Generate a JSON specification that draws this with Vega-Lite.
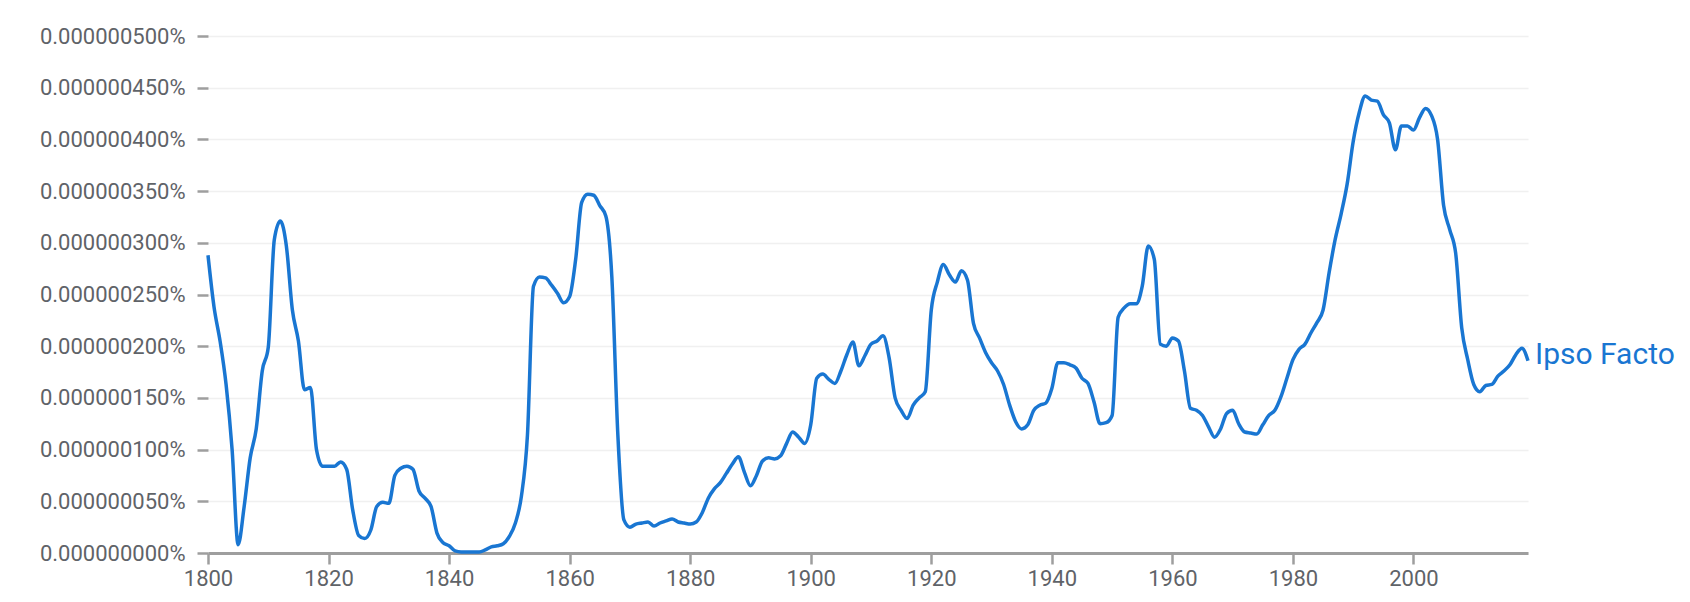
{
  "$schema": "https://vega.github.io/schema/vega-lite/v6.json",
  "width": 1320,
  "height": 517,
  "autosize": {"type": "none"},
  "padding": {"left": 208, "top": 36, "right": 162, "bottom": 49},
  "background": "white",
  "config": {"view": {"stroke": null}, "font": "Roboto"},
  "data": {"values": [
    {"year":1800,"value":2.88e-9},{"year":1801,"value":2.38e-9},{"year":1802,"value":2.05e-9},{"year":1803,"value":1.63e-9},{"year":1804,"value":1.0e-9},
    {"year":1805,"value":0.08e-9},{"year":1806,"value":0.45e-9},{"year":1807,"value":0.92e-9},{"year":1808,"value":1.2e-9},{"year":1809,"value":1.76e-9},
    {"year":1810,"value":1.99e-9},{"year":1811,"value":3.03e-9},{"year":1812,"value":3.21e-9},{"year":1813,"value":2.97e-9},{"year":1814,"value":2.35e-9},
    {"year":1815,"value":2.05e-9},{"year":1816,"value":1.58e-9},{"year":1817,"value":1.6e-9},{"year":1818,"value":1.0e-9},{"year":1819,"value":0.84e-9},
    {"year":1820,"value":0.84e-9},{"year":1821,"value":0.84e-9},{"year":1822,"value":0.88e-9},{"year":1823,"value":0.81e-9},{"year":1824,"value":0.42e-9},
    {"year":1825,"value":0.17e-9},{"year":1826,"value":0.14e-9},{"year":1827,"value":0.22e-9},{"year":1828,"value":0.45e-9},{"year":1829,"value":0.49e-9},
    {"year":1830,"value":0.48e-9},{"year":1831,"value":0.75e-9},{"year":1832,"value":0.82e-9},{"year":1833,"value":0.84e-9},{"year":1834,"value":0.81e-9},
    {"year":1835,"value":0.6e-9},{"year":1836,"value":0.53e-9},{"year":1837,"value":0.45e-9},{"year":1838,"value":0.19e-9},{"year":1839,"value":0.1e-9},
    {"year":1840,"value":0.07e-9},{"year":1841,"value":0.02e-9},{"year":1842,"value":0.01e-9},{"year":1843,"value":0.01e-9},{"year":1844,"value":0.01e-9},
    {"year":1845,"value":0.01e-9},{"year":1846,"value":0.03e-9},{"year":1847,"value":0.06e-9},{"year":1848,"value":0.07e-9},{"year":1849,"value":0.09e-9},
    {"year":1850,"value":0.16e-9},{"year":1851,"value":0.29e-9},{"year":1852,"value":0.55e-9},{"year":1853,"value":1.14e-9},{"year":1854,"value":2.58e-9},
    {"year":1855,"value":2.67e-9},{"year":1856,"value":2.66e-9},{"year":1857,"value":2.59e-9},{"year":1858,"value":2.51e-9},{"year":1859,"value":2.42e-9},
    {"year":1860,"value":2.48e-9},{"year":1861,"value":2.84e-9},{"year":1862,"value":3.39e-9},{"year":1863,"value":3.47e-9},{"year":1864,"value":3.46e-9},
    {"year":1865,"value":3.36e-9},{"year":1866,"value":3.26e-9},{"year":1867,"value":2.67e-9},{"year":1868,"value":1.14e-9},{"year":1869,"value":0.32e-9},
    {"year":1870,"value":0.25e-9},{"year":1871,"value":0.28e-9},{"year":1872,"value":0.29e-9},{"year":1873,"value":0.3e-9},{"year":1874,"value":0.26e-9},
    {"year":1875,"value":0.29e-9},{"year":1876,"value":0.31e-9},{"year":1877,"value":0.33e-9},{"year":1878,"value":0.3e-9},{"year":1879,"value":0.29e-9},
    {"year":1880,"value":0.28e-9},{"year":1881,"value":0.3e-9},{"year":1882,"value":0.39e-9},{"year":1883,"value":0.53e-9},{"year":1884,"value":0.62e-9},
    {"year":1885,"value":0.68e-9},{"year":1886,"value":0.77e-9},{"year":1887,"value":0.86e-9},{"year":1888,"value":0.93e-9},{"year":1889,"value":0.78e-9},
    {"year":1890,"value":0.65e-9},{"year":1891,"value":0.75e-9},{"year":1892,"value":0.89e-9},{"year":1893,"value":0.92e-9},{"year":1894,"value":0.91e-9},
    {"year":1895,"value":0.94e-9},{"year":1896,"value":1.06e-9},{"year":1897,"value":1.17e-9},{"year":1898,"value":1.12e-9},{"year":1899,"value":1.06e-9},
    {"year":1900,"value":1.24e-9},{"year":1901,"value":1.69e-9},{"year":1902,"value":1.73e-9},{"year":1903,"value":1.68e-9},{"year":1904,"value":1.64e-9},
    {"year":1905,"value":1.76e-9},{"year":1906,"value":1.92e-9},{"year":1907,"value":2.04e-9},{"year":1908,"value":1.81e-9},{"year":1909,"value":1.91e-9},
    {"year":1910,"value":2.02e-9},{"year":1911,"value":2.05e-9},{"year":1912,"value":2.1e-9},{"year":1913,"value":1.89e-9},{"year":1914,"value":1.5e-9},
    {"year":1915,"value":1.38e-9},{"year":1916,"value":1.3e-9},{"year":1917,"value":1.43e-9},{"year":1918,"value":1.5e-9},{"year":1919,"value":1.56e-9},
    {"year":1920,"value":2.35e-9},{"year":1921,"value":2.62e-9},{"year":1922,"value":2.79e-9},{"year":1923,"value":2.69e-9},{"year":1924,"value":2.62e-9},
    {"year":1925,"value":2.73e-9},{"year":1926,"value":2.64e-9},{"year":1927,"value":2.22e-9},{"year":1928,"value":2.08e-9},{"year":1929,"value":1.94e-9},
    {"year":1930,"value":1.84e-9},{"year":1931,"value":1.76e-9},{"year":1932,"value":1.63e-9},{"year":1933,"value":1.43e-9},{"year":1934,"value":1.27e-9},
    {"year":1935,"value":1.2e-9},{"year":1936,"value":1.24e-9},{"year":1937,"value":1.38e-9},{"year":1938,"value":1.43e-9},{"year":1939,"value":1.45e-9},
    {"year":1940,"value":1.59e-9},{"year":1941,"value":1.84e-9},{"year":1942,"value":1.84e-9},{"year":1943,"value":1.82e-9},{"year":1944,"value":1.79e-9},
    {"year":1945,"value":1.69e-9},{"year":1946,"value":1.64e-9},{"year":1947,"value":1.46e-9},{"year":1948,"value":1.25e-9},{"year":1949,"value":1.26e-9},
    {"year":1950,"value":1.33e-9},{"year":1951,"value":2.28e-9},{"year":1952,"value":2.37e-9},{"year":1953,"value":2.41e-9},{"year":1954,"value":2.41e-9},
    {"year":1955,"value":2.58e-9},{"year":1956,"value":2.97e-9},{"year":1957,"value":2.84e-9},{"year":1958,"value":2.02e-9},{"year":1959,"value":2.0e-9},
    {"year":1960,"value":2.08e-9},{"year":1961,"value":2.05e-9},{"year":1962,"value":1.76e-9},{"year":1963,"value":1.4e-9},{"year":1964,"value":1.38e-9},
    {"year":1965,"value":1.33e-9},{"year":1966,"value":1.22e-9},{"year":1967,"value":1.12e-9},{"year":1968,"value":1.2e-9},{"year":1969,"value":1.35e-9},
    {"year":1970,"value":1.38e-9},{"year":1971,"value":1.25e-9},{"year":1972,"value":1.17e-9},{"year":1973,"value":1.16e-9},{"year":1974,"value":1.15e-9},
    {"year":1975,"value":1.24e-9},{"year":1976,"value":1.33e-9},{"year":1977,"value":1.38e-9},{"year":1978,"value":1.51e-9},{"year":1979,"value":1.69e-9},
    {"year":1980,"value":1.87e-9},{"year":1981,"value":1.97e-9},{"year":1982,"value":2.02e-9},{"year":1983,"value":2.13e-9},{"year":1984,"value":2.23e-9},
    {"year":1985,"value":2.35e-9},{"year":1986,"value":2.71e-9},{"year":1987,"value":3.03e-9},{"year":1988,"value":3.28e-9},{"year":1989,"value":3.57e-9},
    {"year":1990,"value":3.98e-9},{"year":1991,"value":4.26e-9},{"year":1992,"value":4.42e-9},{"year":1993,"value":4.38e-9},{"year":1994,"value":4.37e-9},
    {"year":1995,"value":4.24e-9},{"year":1996,"value":4.16e-9},{"year":1997,"value":3.9e-9},{"year":1998,"value":4.13e-9},{"year":1999,"value":4.13e-9},
    {"year":2000,"value":4.09e-9},{"year":2001,"value":4.21e-9},{"year":2002,"value":4.3e-9},{"year":2003,"value":4.23e-9},{"year":2004,"value":4.0e-9},
    {"year":2005,"value":3.36e-9},{"year":2006,"value":3.13e-9},{"year":2007,"value":2.9e-9},{"year":2008,"value":2.18e-9},{"year":2009,"value":1.87e-9},
    {"year":2010,"value":1.63e-9},{"year":2011,"value":1.56e-9},{"year":2012,"value":1.62e-9},{"year":2013,"value":1.63e-9},{"year":2014,"value":1.71e-9},
    {"year":2015,"value":1.76e-9},{"year":2016,"value":1.82e-9},{"year":2017,"value":1.92e-9},{"year":2018,"value":1.98e-9},{"year":2019,"value":1.86e-9}
  ]},
  "layer": [
    {
      "mark": {"type": "line", "interpolate": "monotone", "color": "#1976d2", "strokeWidth": 3.5},
      "encoding": {
        "x": {"field": "year", "type": "quantitative",
          "scale": {"domain": [1800, 2019], "nice": false, "zero": false},
          "axis": {"title": null, "values": [1800,1820,1840,1860,1880,1900,1920,1940,1960,1980,2000], "format": "d",
            "labelFlush": false, "labelOverlap": false,
            "grid": false, "domainColor": "#9e9e9e", "domainWidth": 3, "tickColor": "#9e9e9e", "tickWidth": 2.5, "tickSize": 11,
            "labelFontSize": 22, "labelColor": "#5f6368", "labelPadding": 4, "labelFont": "Roboto"}},
        "y": {"field": "value", "type": "quantitative",
          "scale": {"domain": [0, 5e-9], "nice": false},
          "axis": {"title": null, "values": [0,5e-10,1e-9,1.5e-9,2e-9,2.5e-9,3e-9,3.5e-9,4e-9,4.5e-9,5e-9], "format": ".9%",
            "labelFlush": false, "labelOverlap": false,
            "domain": false, "grid": true, "gridColor": "#f0f0f0", "gridWidth": 1.5,
            "tickColor": "#9e9e9e", "tickWidth": 2.5, "tickSize": 11,
            "labelFontSize": 22, "labelColor": "#5f6368", "labelPadding": 12, "labelFont": "Roboto"}}
      }
    },
    {
      "data": {"values": [{"year": 2019, "value": 1.86e-9, "term": "Ipso Facto"}]},
      "mark": {"type": "text", "align": "left", "baseline": "middle", "dx": 7, "dy": -6, "fontSize": 30, "font": "Roboto", "color": "#1976d2"},
      "encoding": {
        "x": {"field": "year", "type": "quantitative"},
        "y": {"field": "value", "type": "quantitative"},
        "text": {"field": "term"}
      }
    }
  ]
}
